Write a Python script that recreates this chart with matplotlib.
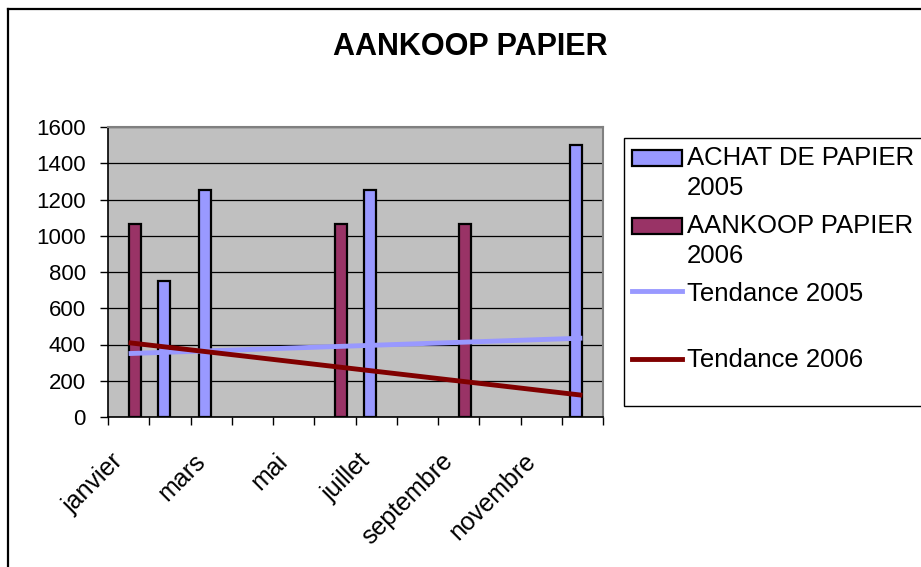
import matplotlib
matplotlib.use("Agg")
import matplotlib.pyplot as plt
import matplotlib.transforms as mtransforms
from matplotlib.patches import Rectangle
from matplotlib.lines import Line2D
import numpy as np

# Données
mois = ['janvier', 'février', 'mars', 'avril', 'mai', 'juin', 'juillet',
        'août', 'septembre', 'octobre', 'novembre', 'décembre']
achat_2005 = [0, 750, 1250, 0, 0, 0, 1250, 0, 0, 0, 0, 1500]
aankoop_2006 = [1065, 0, 0, 0, 0, 1065, 0, 0, 1065, 0, 0, 0]
# droites de tendance: valeur en janvier et en décembre
tendance_2005 = [350, 435]
tendance_2006 = [410, 120]

W, H = 921, 567
bleu = '#9999FF'
bordeaux = '#993366'
rouge = '#800000'


def fx(px):
    return px / W


def fy(py):
    return 1 - py / H


fig = plt.figure(figsize=(W / 100, H / 100), dpi=100)
plt.rcParams['font.family'] = ['Liberation Sans', 'DejaVu Sans']

ax = fig.add_axes([fx(108), fy(417), (603 - 108) / W, (417 - 127) / H])
ax.set_facecolor('#C0C0C0')

x = np.arange(len(mois))
w = 0.29
# les mois sans achat ne sont pas dessinés
v05 = np.array(achat_2005, dtype=float)
v06 = np.array(aankoop_2006, dtype=float)
m05 = v05 > 0
m06 = v06 > 0
ax.bar(x[m05] - w / 2, v05[m05], w, color=bleu, edgecolor='black', linewidth=1.6, zorder=3)
ax.bar(x[m06] + w / 2, v06[m06], w, color=bordeaux, edgecolor='black', linewidth=1.6, zorder=3)

ax.plot([x[0], x[-1]], tendance_2005, color=bleu, linewidth=3.5, zorder=4,
        solid_capstyle='butt')
ax.plot([x[0], x[-1]], tendance_2006, color=rouge, linewidth=3.5, zorder=4,
        solid_capstyle='butt')

ax.set_xlim(-0.5, 11.5)
ax.set_ylim(0, 1600)
ax.set_yticks(np.arange(0, 1601, 200))
ax.yaxis.grid(True, color='black', linewidth=0.9, zorder=1)
ax.tick_params(axis='y', direction='out', length=6, width=1, pad=10, labelsize=16)

# graduations aux limites des catégories, étiquettes sous un mois sur deux
ax.set_xticks(np.arange(-0.5, 12, 1))
ax.set_xticklabels([])
ax.set_xticks(x[::2], minor=True)
ax.set_xticklabels(mois[::2], minor=True, rotation=45, ha='right', va='top',
                   rotation_mode='anchor', fontsize=18)
ax.tick_params(axis='x', which='major', direction='out', length=6, width=1)
ax.tick_params(axis='x', which='minor', length=0, pad=23)
off = mtransforms.ScaledTranslation(-18 / 100, 0, fig.dpi_scale_trans)
for lab in ax.get_xticklabels(minor=True):
    lab.set_transform(lab.get_transform() + off)

for s in ['top', 'right']:
    ax.spines[s].set_color('#808080')
    ax.spines[s].set_linewidth(1.5)
for s in ['left', 'bottom']:
    ax.spines[s].set_color('black')
    ax.spines[s].set_linewidth(1.2)

fig.text(fx(470), fy(47), 'AANKOOP PAPIER', fontsize=22, fontweight='bold',
         ha='center', va='center')

# cadre extérieur
fig.add_artist(Line2D([fx(8), fx(8)], [fy(9), 0], color='black', linewidth=1.6))
fig.add_artist(Line2D([fx(8), 1], [fy(9), fy(9)], color='black', linewidth=1.6))

# légende
fig.add_artist(Rectangle((fx(624), fy(406)), 1, (406 - 138) / H, transform=fig.transFigure,
                         facecolor='white', edgecolor='black', linewidth=1))
fig.add_artist(Rectangle((fx(632), fy(166)), 50 / W, 16 / H, transform=fig.transFigure,
                         facecolor=bleu, edgecolor='black', linewidth=1.6))
fig.add_artist(Rectangle((fx(632), fy(234)), 50 / W, 16 / H, transform=fig.transFigure,
                         facecolor=bordeaux, edgecolor='black', linewidth=1.6))
fig.add_artist(Line2D([fx(632), fx(682)], [fy(291), fy(291)], color=bleu, linewidth=3.5))
fig.add_artist(Line2D([fx(632), fx(682)], [fy(359), fy(359)], color=rouge, linewidth=3.5))
lsize = 18.5
fig.text(fx(687), fy(158), 'ACHAT DE PAPIER', fontsize=lsize, va='center')
fig.text(fx(687), fy(188), '2005', fontsize=lsize, va='center')
fig.text(fx(687), fy(226), 'AANKOOP PAPIER', fontsize=lsize, va='center')
fig.text(fx(687), fy(256), '2006', fontsize=lsize, va='center')
fig.text(fx(687), fy(294), 'Tendance 2005', fontsize=lsize, va='center')
fig.text(fx(687), fy(360), 'Tendance 2006', fontsize=lsize, va='center')

fig.savefig('out.png', dpi=100)
